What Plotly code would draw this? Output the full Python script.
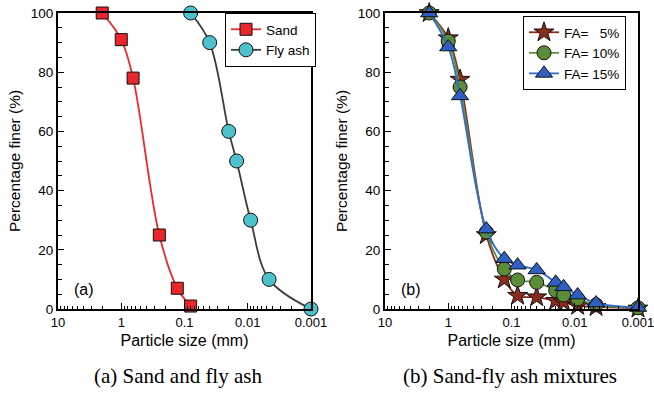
import plotly.graph_objects as go

# ---- data ----
sand_size = [2, 1, 0.65, 0.25, 0.13, 0.08]
sand_finer = [100, 91, 78, 25, 7, 1]
flyash_size = [0.08, 0.04, 0.02, 0.015, 0.009, 0.0046, 0.001]
flyash_finer = [100, 90, 60, 50, 30, 10, 0]

mix_size = [2, 1, 0.65, 0.25, 0.13, 0.08, 0.04, 0.02, 0.015, 0.009, 0.0046, 0.001]
fa5 = [100, 91.5, 77.5, 25, 10, 4.5, 4, 2.8, 2.3, 1.1, 0.7, 0.2]
fa10 = [100, 90.5, 75, 26, 13.5, 9.8, 9, 6.2, 4.7, 3.4, 1.4, 0.4]
fa15 = [100, 88.5, 72, 27, 17, 14.8, 13.2, 9, 7.5, 4.7, 2, 0.5]

series_names = ["Sand", "Fly ash", "FA= \u20075%", "FA= 10%", "FA= 15%"]
x_tickvals = [10, 1, 0.1, 0.01, 0.001]
x_ticktext = ["10", "1", "0.1", "0.01", "0.001"]
captions = ["(a) Sand and fly ash", "(b) Sand-fly ash mixtures"]
panel_labels = ["(a)", "(b)"]

W, H = 654, 394
def px(x):
    return x / W
def py(y):
    return 1 - y / H

SANS = "Liberation Sans, Arial, sans-serif"
SERIF = "Liberation Serif, Times New Roman, serif"

fig = go.Figure()

def add(x, y, name, color, fill, symbol, size, xa, ya, legend):
    fig.add_trace(go.Scatter(
        x=x, y=y, name=name, mode="lines+markers",
        line=dict(color=color, width=1.8, shape="spline"),
        marker=dict(symbol=symbol, size=size, color=fill,
                    line=dict(color="#111111", width=1)),
        xaxis=xa, yaxis=ya, legend=legend, cliponaxis=False))

add(sand_size, sand_finer, series_names[0], "#F02828", "#E8262B", "square", 12, "x", "y", "legend")
add(flyash_size, flyash_finer, series_names[1], "#3C3C3C", "#4DC2CC", "circle", 14, "x", "y", "legend")
add(mix_size, fa5, series_names[2], "#8B2B1E", "#8B2B1E", "star", 15, "x2", "y2", "legend2")
add(mix_size, fa10, series_names[3], "#5E8E3E", "#5B8C3A", "circle", 14, "x2", "y2", "legend2")
add(mix_size, fa15, series_names[4], "#2F6AD0", "#2F5FC0", "triangle-up", 15, "x2", "y2", "legend2")

minor_vals = [k * 10 ** e for e in range(-3, 1) for k in range(2, 10)]

def xaxis(dom, anchor):
    return dict(domain=dom, anchor=anchor, type="log", range=[1, -3],
                tickvals=x_tickvals, ticktext=x_ticktext, ticklabeloverflow="allow",
                ticks="inside", ticklen=6, tickwidth=1, tickcolor="black",
                minor=dict(ticks="inside", ticklen=3.5, tickwidth=1, tickcolor="black",
                           tickvals=minor_vals, showgrid=False),
                showline=True, linecolor="black", linewidth=2, mirror=True,
                showgrid=False, zeroline=False,
                tickfont=dict(family=SANS, size=13, color="black"),
                title=dict(text="Particle size (mm)", font=dict(family=SANS, size=16, color="black"), standoff=6))

def yaxis(anchor):
    return dict(domain=[py(309), py(13)], range=[0, 100], dtick=20, anchor=anchor,
                ticks="inside", ticklen=6, tickwidth=1, tickcolor="black",
                minor=dict(ticks="inside", ticklen=3.5, tickwidth=1, tickcolor="black", dtick=5, showgrid=False),
                showline=True, linecolor="black", linewidth=2, mirror=True,
                showgrid=False, zeroline=False,
                tickfont=dict(family=SANS, size=13.5, color="black"),
                title=dict(text="Percentage finer (%)", font=dict(family=SANS, size=15.5, color="black"), standoff=6))

legend_style = dict(xanchor="left", yanchor="top", bgcolor="white", bordercolor="black", borderwidth=1,
                    font=dict(family=SANS, size=13.5, color="black"), tracegroupgap=0)

fig.update_layout(
    width=W, height=H,
    margin=dict(l=0, r=0, t=0, b=0, autoexpand=False),
    paper_bgcolor="white", plot_bgcolor="white",
    xaxis=xaxis([px(58), px(311)], "y"),
    yaxis=yaxis("x"),
    xaxis2=xaxis([px(385), px(638)], "y2"),
    yaxis2=yaxis("x2"),
    legend=dict(legend_style, x=px(225), y=py(13)),
    legend2=dict(legend_style, x=px(523), y=py(16)),
    showlegend=True,
)

for lab, (xx, yy) in zip(panel_labels, [(84, 289), (411, 289)]):
    fig.add_annotation(text=lab, x=px(xx), y=py(yy), xref="paper", yref="paper",
                       showarrow=False, xanchor="center", yanchor="middle",
                       font=dict(family=SANS, size=16, color="black"))

for cap, xx in zip(captions, [177.5, 510]):
    fig.add_annotation(text=cap, x=px(xx), y=py(376), xref="paper", yref="paper",
                       showarrow=False, xanchor="center", yanchor="middle",
                       font=dict(family=SERIF, size=21, color="black"))

fig.write_html("out.html", config={"displayModeBar": False},
               post_script="document.body.style.margin='0';document.body.style.padding='0';")
